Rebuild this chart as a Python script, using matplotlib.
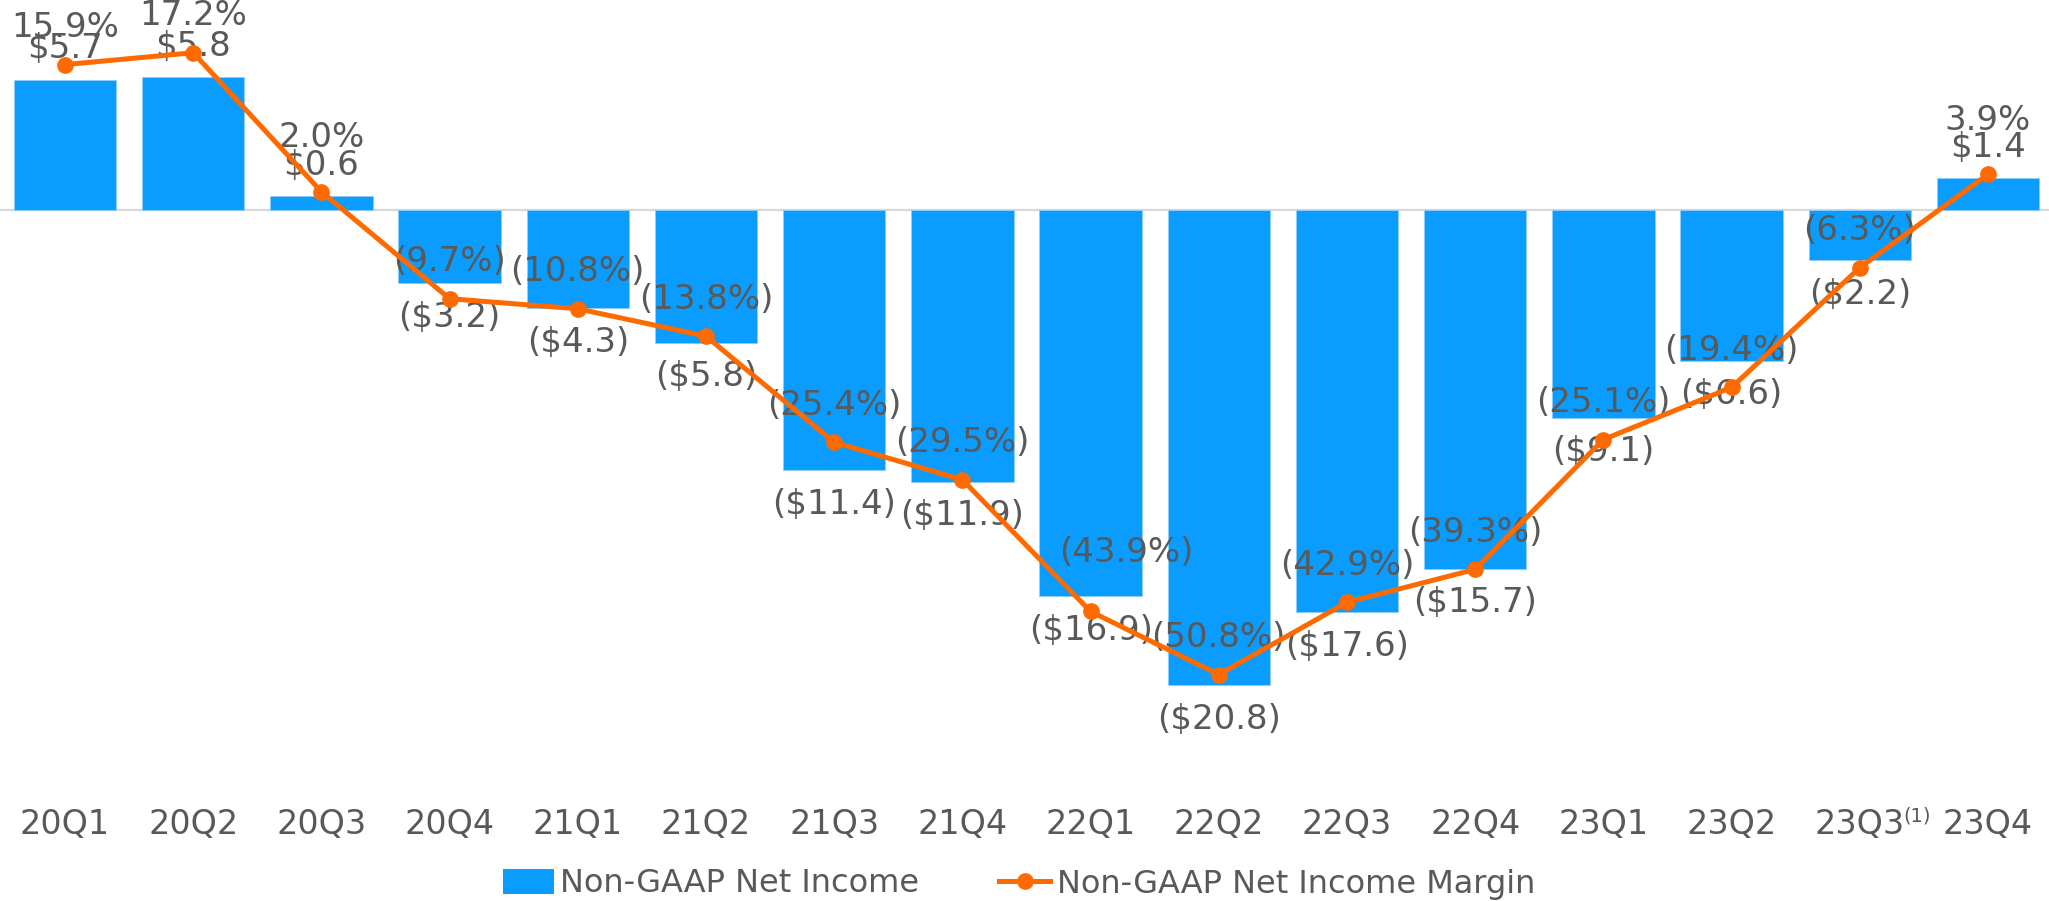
import numpy as np
import matplotlib
matplotlib.use("Agg")
import matplotlib.pyplot as plt
from matplotlib import transforms
from matplotlib.lines import Line2D
from matplotlib.patches import Patch

# =========================
# Datos
# =========================
quarters = ["20Q1", "20Q2", "20Q3", "20Q4", "21Q1", "21Q2", "21Q3", "21Q4",
            "22Q1", "22Q2", "22Q3", "22Q4", "23Q1", "23Q2", "23Q3", "23Q4"]
net_income = [5.7, 5.8, 0.6, -3.2, -4.3, -5.8, -11.4, -11.9,
              -16.9, -20.8, -17.6, -15.7, -9.1, -6.6, -2.2, 1.4]
margin = [15.9, 17.2, 2.0, -9.7, -10.8, -13.8, -25.4, -29.5,
          -43.9, -50.8, -42.9, -39.3, -25.1, -19.4, -6.3, 3.9]
footnote_quarter = "23Q3"
footnote_mark = "(1)"

# =========================
# Estilo
# =========================
W, H, DPI = 2049, 901, 100
BLUE = "#0A9CFF"
ORANGE = "#FF6A00"
GRAY = "#595959"
FS = 24.5

x0_px, step_px = 65, 128.2      # centro primera barra, separacion
zero_px = 210                   # linea de cero desde arriba
px_usd, px_pct = 22.85, 9.145   # pixeles por unidad

# ajustes a mano de algunas etiquetas de margen (pixeles)
margin_nudge = {2: (0, 17), 8: (36, 22), 15: (0, 17)}

fig = plt.figure(figsize=(W / DPI, H / DPI), dpi=DPI)
ax = fig.add_axes([0, 0, 1, 1])
x = np.arange(len(quarters))
ax.set_xlim(-x0_px / step_px, (W - x0_px) / step_px)
ax.set_ylim(-(H - zero_px) / px_usd, zero_px / px_usd)
ax.axis("off")

ax2 = ax.twinx()
ax2.set_ylim(-(H - zero_px) / px_pct, zero_px / px_pct)
ax2.axis("off")

ax.axhline(0, color="#d9d9d9", lw=1.6, zorder=1)
ax.bar(x, net_income, width=0.80, color=BLUE, edgecolor="#8fcdf7",
       linewidth=0.6, zorder=2)
ax2.plot(x, margin, color=ORANGE, lw=3.6, marker="o", markersize=11, zorder=3)


def money(v):
    return f"${v:.1f}" if v >= 0 else f"(${-v:.1f})"


def pct(v):
    return f"{v:.1f}%" if v >= 0 else f"({-v:.1f}%)"


for i, (v, m) in enumerate(zip(net_income, margin)):
    dy = 31 if v >= 0 else -34
    ax.annotate(money(v), xy=(i, v), xytext=(0, dy), textcoords="offset pixels",
                ha="center", va="center", fontsize=FS, color=GRAY, zorder=4)
    nx, ny = margin_nudge.get(i, (0, 0))
    ax.annotate(pct(m), xy=(i, m), xycoords=ax2.transData,
                xytext=(nx, 37 + ny), textcoords="offset pixels",
                ha="center", va="center", fontsize=FS, color=GRAY, zorder=4)

# etiquetas del eje x
trans = transforms.blended_transform_factory(ax.transData, fig.transFigure)
for i, q in enumerate(quarters):
    ax.text(i, 1 - 824 / H, q, transform=trans, ha="center", va="center",
            fontsize=24, color=GRAY)
    if q == footnote_quarter:
        ax.text(i + 44 / step_px, 1 - 816 / H, footnote_mark, transform=trans,
                ha="left", va="center", fontsize=14, color=GRAY)

handles = [Patch(facecolor=BLUE),
           Line2D([], [], color=ORANGE, lw=3.6, marker="o", markersize=11)]
labels = ["Non-GAAP Net Income", "Non-GAAP Net Income Margin"]
fig.legend(handles, labels, loc="center", bbox_to_anchor=(1019 / W, 1 - 884 / H),
           ncol=2, frameon=False, fontsize=23, labelcolor=GRAY,
           handlelength=1.6, handleheight=0.8, handletextpad=0.2,
           columnspacing=2.5, borderpad=0, borderaxespad=0)

fig.savefig("out.png", dpi=DPI)
